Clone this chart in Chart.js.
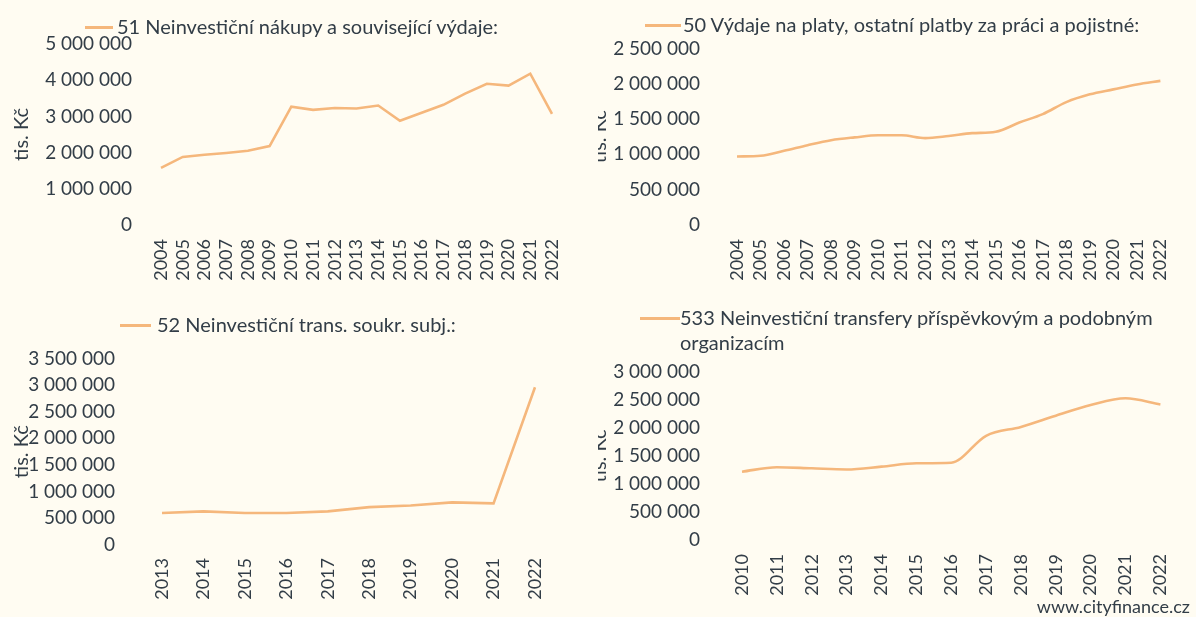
<!DOCTYPE html>
<html>
<head>
<meta charset="utf-8">
<script src="https://cdn.jsdelivr.net/npm/chart.js@4/dist/chart.umd.min.js"></script>
<style>
  html, body { margin:0; padding:0; background:#fffcf2; }
  body { width:1196px; height:617px; position:relative; overflow:hidden; font-family: Lato, "Open Sans", sans-serif; color:#323d47; }
  .wrap { position:absolute; overflow:hidden; }
  .wrap canvas { position:absolute; top:0; }
  .leg { position:absolute; font-size:20px; line-height:25px; white-space:nowrap; color:#323d47; }
  .leg .sw { position:absolute; height:3px; background:#f5b77c; }
  .foot { position:absolute; right:6px; top:595px; font-size:18px; line-height:22px; color:#323d47; }
</style>
</head>
<body>
<div class="wrap" style="left:0;top:0;width:598px;height:300px;"><canvas id="c1" width="598" height="300" style="left:0"></canvas></div>
<div class="wrap" style="left:598px;top:0;width:598px;height:300px;"><canvas id="c2" width="610" height="300" style="left:-12px"></canvas></div>
<div class="wrap" style="left:0;top:300px;width:598px;height:317px;"><canvas id="c3" width="598" height="317" style="left:0"></canvas></div>
<div class="wrap" style="left:598px;top:300px;width:598px;height:317px;"><canvas id="c4" width="610" height="317" style="left:-12px"></canvas></div>

<div class="leg" style="left:117px;top:14px;"><span class="sw" style="left:-32px;width:28px;top:12px;"></span><span id="l1"></span></div>
<div class="leg" style="left:683px;top:12px;"><span class="sw" style="left:-38px;width:36px;top:12px;"></span><span id="l2"></span></div>
<div class="leg" style="left:157px;top:312px;"><span class="sw" style="left:-37px;width:31px;top:12px;"></span><span id="l3"></span></div>
<div class="leg" style="left:680px;top:305px;"><span class="sw" style="left:-40px;width:40px;top:12px;"></span><span id="l4a"></span><br><span id="l4b"></span></div>
<div class="foot">www.cityfinance.cz</div>

<script>
// ---- data ----
const years1 = ["2004","2005","2006","2007","2008","2009","2010","2011","2012","2013","2014","2015","2016","2017","2018","2019","2020","2021","2022"];
const values1 = [1580000,1880000,1940000,1990000,2050000,2180000,3270000,3180000,3230000,3220000,3300000,2880000,3100000,3320000,3630000,3900000,3850000,4180000,3070000];
const title1 = "51 Neinvestiční nákupy a související výdaje:";

const years2 = ["2004","2005","2006","2007","2008","2009","2010","2011","2012","2013","2014","2015","2016","2017","2018","2019","2020","2021","2022"];
const values2 = [970000,980000,1050000,1130000,1200000,1240000,1270000,1270000,1230000,1260000,1300000,1320000,1450000,1570000,1740000,1850000,1920000,1990000,2040000];
const title2 = "50 Výdaje na platy, ostatní platby za práci a pojistné:";

const years3 = ["2013","2014","2015","2016","2017","2018","2019","2020","2021","2022"];
const values3 = [600000,630000,600000,600000,630000,710000,740000,800000,780000,2960000];
const title3 = "52 Neinvestiční trans. soukr. subj.:";

const years4 = ["2010","2011","2012","2013","2014","2015","2016","2017","2018","2019","2020","2021","2022"];
const values4 = [1220000,1300000,1280000,1260000,1310000,1370000,1380000,1860000,2020000,2220000,2410000,2530000,2420000];
const title4a = "533 Neinvestiční transfery příspěvkovým a podobným";
const title4b = "organizacím";

const yMax = [5000000, 2500000, 3500000, 3000000];
const yStep = [1000000, 500000, 500000, 500000];
const yTitle = "tis. Kč";

document.getElementById('l1').textContent = title1;
document.getElementById('l2').textContent = title2;
document.getElementById('l3').textContent = title3;
document.getElementById('l4a').textContent = title4a;
document.getElementById('l4b').textContent = title4b;

const TXT = '#323d47';
const LINE = '#f5b77c';
const FONT = 'Lato';

function fmt(v) { return String(v).replace(/\B(?=(\d{3})+(?!\d))/g, ' '); }

function make(id, labels, data, maxV, step, geo, smooth) {
  new Chart(document.getElementById(id), {
    type: 'line',
    data: { labels: labels, datasets: [{ label: '', data: data, borderColor: LINE, backgroundColor: LINE,
      borderWidth: 2.6, pointRadius: 0, tension: smooth ? 0.4 : 0,
      cubicInterpolationMode: smooth ? 'monotone' : 'default', fill: false }] },
    options: {
      responsive: false, animation: false, devicePixelRatio: 1,
      layout: { padding: { left: geo.pl, right: geo.pr, top: geo.pt, bottom: 0 } },
      plugins: { legend: { display: false }, tooltip: { enabled: false } },
      scales: {
        x: {
          type: 'category', offset: false,
          grid: { display: false, drawTicks: false }, border: { display: false },
          ticks: { color: TXT, font: { family: FONT, size: 18 }, maxRotation: 90, minRotation: 90, autoSkip: false, padding: geo.xpad },
          afterFit: s => { s.height = geo.xh; }
        },
        y: {
          min: 0, max: maxV,
          grid: { display: false, drawTicks: false }, border: { display: false },
          ticks: { stepSize: step, color: TXT, font: { family: FONT, size: 19 }, padding: geo.ypad, callback: v => fmt(v) },
          title: { display: true, text: yTitle, color: TXT, font: { family: FONT, size: 20 }, padding: { top: 2, bottom: 2 } },
          afterFit: s => { s.width = geo.yw; }
        }
      }
    }
  });
}

make('c1', years1, values1, yMax[0], yStep[0], { pl: 8, pr: 46, pt: 44, xh: 75, yw: 153, ypad: 29, xpad: 14 }, false);
make('c2', years2, values2, yMax[1], yStep[1], { pl: 0, pr: 14, pt: 41, xh: 75, yw: 151, ypad: 37, xpad: 14 }, true);
make('c3', years3, values3, yMax[2], yStep[2], { pl: 8, pr: 63, pt: 55, xh: 72, yw: 154, ypad: 47, xpad: 13 }, false);
make('c4', years4, values4, yMax[3], yStep[3], { pl: 0, pr: 13, pt: 72, xh: 77, yw: 156, ypad: 42, xpad: 14 }, true);
</script>
</body>
</html>
